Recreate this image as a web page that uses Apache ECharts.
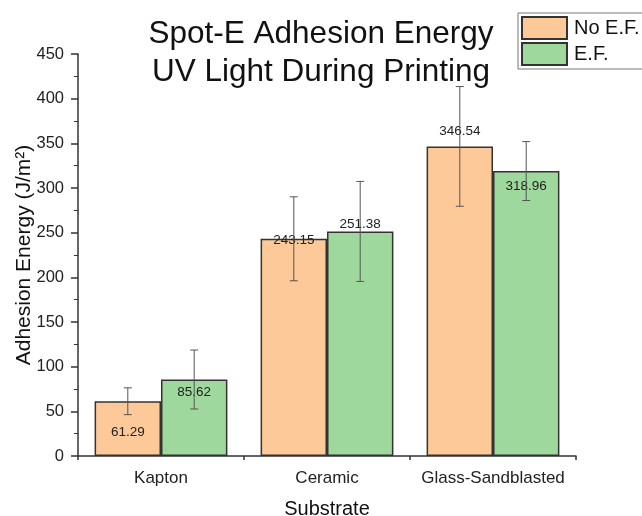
<!DOCTYPE html>
<html>
<head>
<meta charset="utf-8">
<script src="https://cdn.jsdelivr.net/npm/echarts@6/dist/echarts.min.js"></script>
<style>
html,body{margin:0;padding:0;background:#fff;}
#chart{width:642px;height:516px;}
</style>
</head>
<body>
<div id="chart"></div>
<script>
const categories = ['Kapton', 'Ceramic', 'Glass-Sandblasted'];
const noEF = [61.29, 243.15, 346.54];
const noEFErr = [15, 47, 67];
const EF = [85.62, 251.38, 318.96];
const EFErr = [33, 56, 33];
const seriesNames = ['No E.F.', 'E.F.'];

const FONT = '"Liberation Sans", Arial, sans-serif';
const ORANGE = '#FDC998';
const GREEN = '#9FD89D';
const BORDER = '#333333';
const labelOffsets = {0: [[0, 38], [0, 8], [0, -8]], 1: [[0, 20], [0, 0], [0, 22]]};

function barData(vals, sIdx) {
  return vals.map((v, i) => ({
    value: v,
    label: { offset: labelOffsets[sIdx][i] }
  }));
}

function errSeries(vals, errs, side) {
  return {
    type: 'custom',
    z: 5,
    silent: true,
    data: vals.map((v, i) => [i, v - errs[i], v + errs[i]]),
    renderItem: function (params, api) {
      const idx = api.value(0);
      const lo = api.coord([idx, api.value(1)]);
      const hi = api.coord([idx, api.value(2)]);
      const band = api.size([1, 0])[0];
      const x = lo[0] + side * band * 0.8 / 4;
      const cap = 4;
      const st = { stroke: '#555', lineWidth: 1, fill: null };
      return {
        type: 'group',
        children: [
          { type: 'line', shape: { x1: x, y1: lo[1], x2: x, y2: hi[1] }, style: st },
          { type: 'line', shape: { x1: x - cap, y1: lo[1], x2: x + cap, y2: lo[1] }, style: st },
          { type: 'line', shape: { x1: x - cap, y1: hi[1], x2: x + cap, y2: hi[1] }, style: st }
        ]
      };
    }
  };
}

const chart = echarts.init(document.getElementById('chart'));
chart.setOption({
  backgroundColor: '#fff',
  animation: false,
  textStyle: { fontFamily: FONT },
  title: {
    text: 'Spot-E Adhesion Energy\nUV Light During Printing',
    left: 316,
    textAlign: 'center',
    top: 10,
    textStyle: { fontFamily: FONT, fontSize: 31.5, fontWeight: 'normal', color: '#111', lineHeight: 38 }
  },
  legend: {
    data: seriesNames,
    orient: 'vertical',
    left: 518,
    top: 13,
    itemWidth: 45,
    itemHeight: 22,
    itemGap: 2,
    padding: [3, 40, 3, 3],
    borderColor: '#777',
    borderWidth: 1,
    icon: 'rect',
    textStyle: { fontFamily: FONT, fontSize: 20, color: '#111', lineHeight: 22, padding: [0, 0, 0, 2] }
  },
  grid: { left: 78, right: 66, top: 54, bottom: 60, containLabel: false, outerBoundsMode: 'none' },
  xAxis: [{
    type: 'category',
    data: categories,
    name: 'Substrate',
    nameLocation: 'middle',
    nameGap: 43,
    nameMoveOverlap: false,
    nameTextStyle: { fontFamily: FONT, fontSize: 20, color: '#111' },
    axisLine: { lineStyle: { color: '#333', width: 1.5 } },
    axisTick: { alignWithLabel: true, length: 7, lineStyle: { color: '#333', width: 1.5 } },
    axisLabel: { interval: 0, fontFamily: FONT, fontSize: 17, color: '#222', margin: 14 }
  }, {
    type: 'category',
    data: categories,
    position: 'bottom',
    axisLine: { show: false },
    axisTick: { show: true, interval: 0, length: 4, lineStyle: { color: '#333', width: 1.5 } },
    axisLabel: { show: false }
  }],
  yAxis: {
    type: 'value',
    min: 0,
    max: 450,
    interval: 50,
    name: 'Adhesion Energy (J/m²)',
    nameLocation: 'middle',
    nameGap: 43,
    nameMoveOverlap: false,
    nameTextStyle: { fontFamily: FONT, fontSize: 21, color: '#111' },
    axisLine: { show: true, lineStyle: { color: '#333', width: 1.5 } },
    axisTick: { show: true, length: 7, lineStyle: { color: '#333', width: 1.5 } },
    minorTick: { show: true, splitNumber: 2, length: 4, lineStyle: { color: '#333', width: 1 } },
    splitLine: { show: false },
    axisLabel: { fontFamily: FONT, fontSize: 16.5, color: '#222', margin: 14 }
  },
  series: [
    {
      name: seriesNames[0],
      type: 'bar',
      data: barData(noEF, 0),
      barGap: '0%',
      barCategoryGap: '20%',
      itemStyle: { color: ORANGE, borderColor: BORDER, borderWidth: 1.5 },
      label: { show: true, position: 'top', distance: 0, fontFamily: FONT, fontSize: 13.5, color: '#222', formatter: p => p.value.toFixed(2) }
    },
    {
      name: seriesNames[1],
      type: 'bar',
      data: barData(EF, 1),
      barGap: '0%',
      barCategoryGap: '20%',
      itemStyle: { color: GREEN, borderColor: BORDER, borderWidth: 1.5 },
      label: { show: true, position: 'top', distance: 0, fontFamily: FONT, fontSize: 13.5, color: '#222', formatter: p => p.value.toFixed(2) }
    },
    errSeries(noEF, noEFErr, -1),
    errSeries(EF, EFErr, 1)
  ]
});
</script>
</body>
</html>
